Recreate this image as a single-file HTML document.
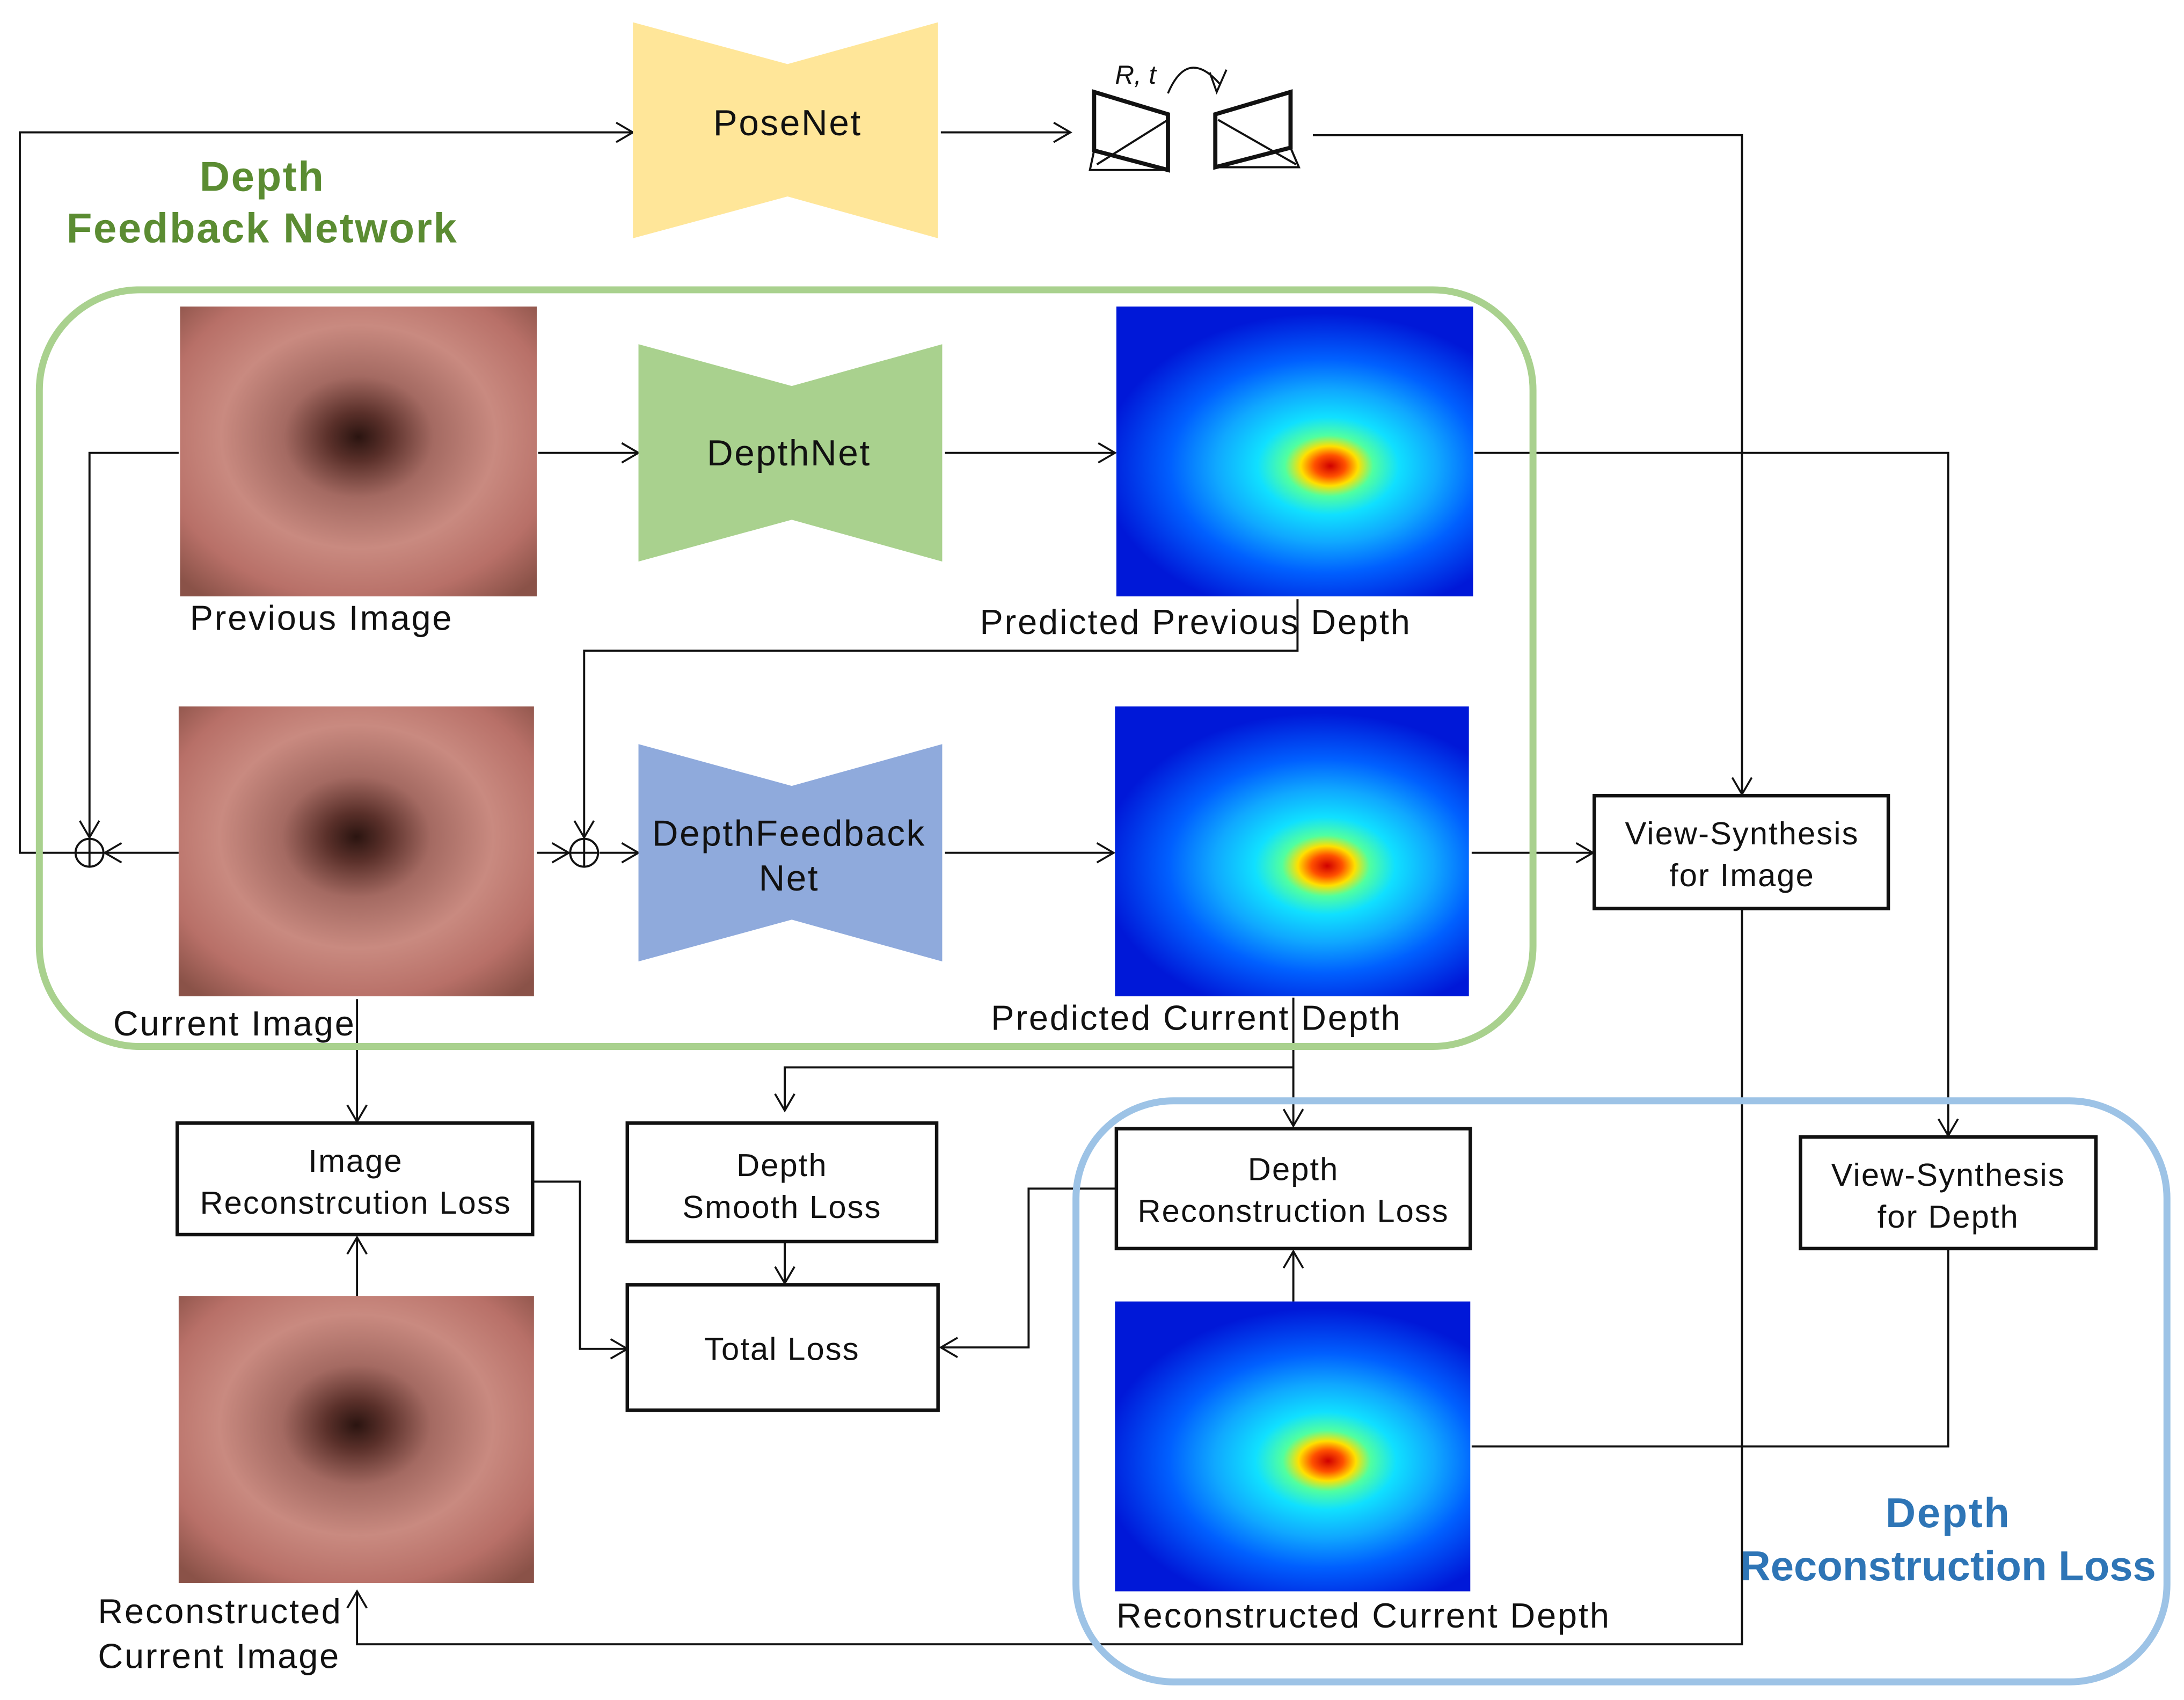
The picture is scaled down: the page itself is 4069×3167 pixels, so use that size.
<!DOCTYPE html>
<html><head><meta charset="utf-8"><style>
html,body{margin:0;padding:0;background:#fff}
svg{display:block}
text{font-family:"Liberation Sans","DejaVu Sans",sans-serif;fill:#111}
.lb{letter-spacing:1px}
</style></head><body>
<svg width="4069" height="3167" viewBox="0 0 1567 1220" xmlns="http://www.w3.org/2000/svg">
<defs>
<marker id="a" markerWidth="16" markerHeight="16" refX="13" refY="8" orient="auto" markerUnits="userSpaceOnUse">
<path d="M1,1 L13,8 L1,15" fill="none" stroke="#111" stroke-width="1.4"/></marker>
<radialGradient id="img" cx="0.5" cy="0.45" r="0.7">
<stop offset="0" stop-color="#2a1410"/><stop offset="0.12" stop-color="#5a302a"/>
<stop offset="0.3" stop-color="#a46a62"/><stop offset="0.55" stop-color="#c98a80"/>
<stop offset="0.8" stop-color="#b87068"/><stop offset="1" stop-color="#8a5248"/></radialGradient>
<radialGradient id="dep" cx="0.58" cy="0.55" r="0.62" fx="0.6" fy="0.55" gradientTransform="translate(0.58 0.55) scale(1 0.85) translate(-0.58 -0.55)">
<stop offset="0" stop-color="#d00000"/><stop offset="0.07" stop-color="#ff5000"/>
<stop offset="0.13" stop-color="#ffe000"/><stop offset="0.2" stop-color="#50ffa0"/>
<stop offset="0.32" stop-color="#10e0ff"/><stop offset="0.5" stop-color="#10a8ff"/>
<stop offset="0.7" stop-color="#0060ff"/><stop offset="1" stop-color="#0018d8"/></radialGradient>
</defs>
<g fill="none" stroke="#111" stroke-width="1.5">
<polyline points="54,612 14,612 14,95 454,95" marker-end="url(#a)"/>
<line x1="675" y1="95" x2="768" y2="95" marker-end="url(#a)"/>
<polyline points="942,97 1250,97 1250,570" marker-end="url(#a)"/>
<line x1="386" y1="325" x2="458" y2="325" marker-end="url(#a)"/>
<line x1="678" y1="325" x2="800" y2="325" marker-end="url(#a)"/>
<polyline points="931,430 931,467 419,467 419,601" marker-end="url(#a)"/>
<polyline points="1058,325 1398,325 1398,815" marker-end="url(#a)"/>
<polyline points="128,325 64,325 64,601" marker-end="url(#a)"/>
<line x1="128" y1="612" x2="75" y2="612" marker-end="url(#a)"/>
<line x1="385" y1="612" x2="408" y2="612" marker-end="url(#a)"/>
<line x1="430" y1="612" x2="458" y2="612" marker-end="url(#a)"/>
<line x1="678" y1="612" x2="799" y2="612" marker-end="url(#a)"/>
<line x1="928" y1="716" x2="928" y2="808" marker-end="url(#a)"/>
<polyline points="928,766 563,766 563,797" marker-end="url(#a)"/>
<line x1="1056" y1="612" x2="1143" y2="612" marker-end="url(#a)"/>
<polyline points="1250,652 1250,1180 256,1180 256,1142" marker-end="url(#a)"/>
<line x1="256" y1="717" x2="256" y2="805" marker-end="url(#a)"/>
<polyline points="382,848 416,848 416,968 450,968" marker-end="url(#a)"/>
<line x1="256" y1="930" x2="256" y2="888" marker-end="url(#a)"/>
<line x1="563" y1="891" x2="563" y2="921" marker-end="url(#a)"/>
<polyline points="801,853 738,853 738,967 675,967" marker-end="url(#a)"/>
<line x1="928" y1="934" x2="928" y2="898" marker-end="url(#a)"/>
<polyline points="1056,1038 1398,1038 1398,896"/>
<circle cx="64" cy="612" r="10"/><line x1="54" y1="612" x2="74" y2="612"/><line x1="64" y1="602" x2="64" y2="622"/>
<circle cx="419" cy="612" r="10"/><line x1="409" y1="612" x2="429" y2="612"/><line x1="419" y1="602" x2="419" y2="622"/>
</g>
<rect x="28" y="208" width="1072" height="543" rx="72" fill="none" stroke="#A9D18E" stroke-width="5"/>
<rect x="772" y="790" width="783" height="417" rx="70" fill="none" stroke="#9DC3E6" stroke-width="5"/>
<polygon points="454,16 565,46 673,16 673,171 565,141 454,171" fill="#FFE699"/>
<polygon points="458,247 568,277 676,247 676,403 568,373 458,403" fill="#A9D18E"/>
<polygon points="458,534 568,564 676,534 676,690 568,660 458,690" fill="#8FAADC"/>
<text x="565" y="97" font-size="26" text-anchor="middle" class="lb">PoseNet</text>
<text x="566" y="334" font-size="26" text-anchor="middle" class="lb">DepthNet</text>
<text x="566" y="607" font-size="26" text-anchor="middle" class="lb">DepthFeedback</text>
<text x="566" y="639" font-size="26" text-anchor="middle" class="lb">Net</text>
<g fill="none" stroke="#111">
<polygon points="785,66 838,82 838,122 785,108" stroke-width="3"/>
<polyline points="785,108 782,122 838,122" stroke-width="1.5"/>
<line x1="787" y1="118" x2="838" y2="86" stroke-width="1.5"/>
<polygon points="872,82 926,66 926,106 872,120" stroke-width="3"/>
<polyline points="926,106 932,120 872,120" stroke-width="1.5"/>
<line x1="874" y1="86" x2="930" y2="118" stroke-width="1.5"/>
<path d="M838,67 Q852,34 875,60" stroke-width="1.4"/>
<polyline points="868,52 873,66 880,50" stroke-width="1.4"/>
</g>
<text x="800" y="60" font-size="19" font-style="italic" font-family="Liberation Serif,serif">R, t</text>
<text x="188" y="137" font-size="30" font-weight="bold" text-anchor="middle" style="fill:#5B8C32" class="lb">Depth</text>
<text x="188" y="174" font-size="30" font-weight="bold" text-anchor="middle" style="fill:#5B8C32" class="lb">Feedback Network</text>
<text x="1398" y="1096" font-size="30" font-weight="bold" text-anchor="middle" style="fill:#2E75B6" class="lb">Depth</text>
<text x="1398" y="1134" font-size="30" font-weight="bold" text-anchor="middle" style="fill:#2E75B6">Reconstruction Loss</text>
<rect x="129" y="220" width="256" height="208" fill="url(#img)"/>
<rect x="128" y="507" width="255" height="208" fill="url(#img)"/>
<rect x="128" y="930" width="255" height="206" fill="url(#img)"/>
<rect x="801" y="220" width="256" height="208" fill="url(#dep)"/>
<rect x="800" y="507" width="254" height="208" fill="url(#dep)"/>
<rect x="800" y="934" width="255" height="208" fill="url(#dep)"/>
<g font-size="25" style="letter-spacing:1.1px">
<text x="136" y="452">Previous Image</text>
<text x="703" y="455">Predicted Previous Depth</text>
<text x="81" y="743">Current Image</text>
<text x="711" y="739">Predicted Current Depth</text>
<text x="70" y="1165">Reconstructed</text>
<text x="70" y="1197">Current Image</text>
<text x="801" y="1168">Reconstructed Current Depth</text>
</g>
<g fill="#fff" stroke="#111" stroke-width="2.5">
<rect x="1144" y="571" width="211" height="81"/>
<rect x="127" y="806" width="255" height="80"/>
<rect x="450" y="806" width="222" height="85"/>
<rect x="450" y="922" width="223" height="90"/>
<rect x="801" y="810" width="254" height="86"/>
<rect x="1292" y="816" width="212" height="80"/>
</g>
<g font-size="23" text-anchor="middle" style="letter-spacing:0.8px">
<text x="1250" y="606">View-Synthesis</text><text x="1250" y="636">for Image</text>
<text x="255" y="841">Image</text><text x="255" y="871">Reconstrcution Loss</text>
<text x="561" y="844">Depth</text><text x="561" y="874">Smooth Loss</text>
<text x="561" y="976">Total Loss</text>
<text x="928" y="847">Depth</text><text x="928" y="877">Reconstruction Loss</text>
<text x="1398" y="851">View-Synthesis</text><text x="1398" y="881">for Depth</text>
</g>
</svg>
</body></html>
